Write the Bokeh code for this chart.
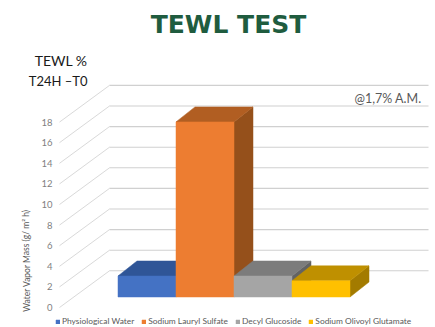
from bokeh.embed import file_html
from bokeh.resources import INLINE
from bokeh.plotting import figure
from bokeh.models import Legend, LegendItem, Range1d
from bokeh.core.properties import value

categories = ["Physiological Water", "Sodium Lauryl Sulfate", "Decyl Glucoside", "Sodium Olivoyl Glutamate"]
values = [2.04, 17.0, 2.04, 1.57]
y_ticks = [0, 2, 4, 6, 8, 10, 12, 14, 16, 18]
front_colors = ["#4472c4", "#ed7d31", "#a5a5a5", "#ffc000"]
top_colors = ["#2f5597", "#b15e22", "#7c7c7c", "#bf9000"]
side_colors = ["#264478", "#95501b", "#636363", "#a37b00"]

W, H = 435, 327
X0, XS = 117.5, 58.0     # pixel of first bar's left edge, px per category
Y0, YS = 296.5, 10.3     # pixel of bar base, px per value unit
DX, DY = 19 / XS, 15 / YS  # depth of a bar, in data units
FRONT_X, BACK_X, END_X = (59 - X0) / XS, (109 - X0) / XS, (428 - X0) / XS
FRONT_DY, BACK_DY = -(307 - Y0) / YS, (Y0 - 270.3) / YS

def px(x):
    return (x - X0) / XS

def py(y):
    return (Y0 - y) / YS

p = figure(width=W, height=H, output_backend="svg", toolbar_location=None,
           x_axis_type=None, y_axis_type=None, min_border=0,
           margin=(0, 0, 0, 0),
           x_range=Range1d(px(0), px(W)), y_range=Range1d(py(H), py(0)))
p.grid.visible = False
p.outline_line_color = None
p.background_fill_color = "white"
p.border_fill_color = "white"

p.segment([FRONT_X] * len(y_ticks), [t + FRONT_DY for t in y_ticks],
          [BACK_X] * len(y_ticks), [t + BACK_DY for t in y_ticks],
          line_color="#d9d9d9", line_width=1)
p.segment([BACK_X] * len(y_ticks), [t + BACK_DY for t in y_ticks],
          [END_X] * len(y_ticks), [t + BACK_DY for t in y_ticks],
          line_color="#d0d0d0", line_width=1.1)

p.text([px(52)] * len(y_ticks), [t + FRONT_DY for t in y_ticks], text=[str(t) for t in y_ticks],
       text_font=value("Lato"), text_font_size="9.5px", text_color="#7f7f7f",
       text_align="right", text_baseline="middle")

items = []
for i, v in enumerate(values):
    p.patch([i + 1, i + 1 + DX, i + 1 + DX, i + 1], [0, DY, v + DY, v],
            fill_color=side_colors[i], line_color=side_colors[i], line_width=0.5)
    p.patch([i, i + 1, i + 1 + DX, i + DX], [v, v, v + DY, v + DY],
            fill_color=top_colors[i], line_color=top_colors[i], line_width=0.5)
    r = p.vbar(x=[i + 0.5], top=[v], bottom=[0], width=1, fill_color=front_colors[i],
               line_color=front_colors[i], line_width=0.5)
    items.append(LegendItem(label=categories[i], renderers=[r]))

legend = Legend(items=items, orientation="horizontal", location=(55, 1),
                label_text_font="Lato", label_text_font_size="8.4px", label_text_color="#595959",
                glyph_width=5, glyph_height=5, label_standoff=2, spacing=7,
                padding=0, margin=0, border_line_color=None, background_fill_alpha=0,
                label_height=8, label_width=10)
p.add_layout(legend, "center")

def label(x, y, s, size, color, align="left", bold=False, angle=0.0, font="Lato"):
    p.text([px(x)], [py(y)], text=[s], text_font=value(font), text_font_size=size,
           text_color=color, text_align=align, text_baseline="middle",
           text_font_style="bold" if bold else "normal", angle=angle)

label(228, 24, "TEWL TEST", "25px", "#1f5c3f", "center", True, font="DejaVu Sans")
label(87, 60, "TEWL %", "14px", "#1a1a1a", "right")
label(87, 80, "T24H –T0", "13px", "#1a1a1a", "right")
label(421, 98, "@1,7% A.M.", "12.5px", "#595959", "right")
label(26, 260, "Water Vapor Mass (g/ m² h)", "8.5px", "#595959", "center", angle=1.5708)

open("out.html", "w").write(file_html(p, INLINE))
